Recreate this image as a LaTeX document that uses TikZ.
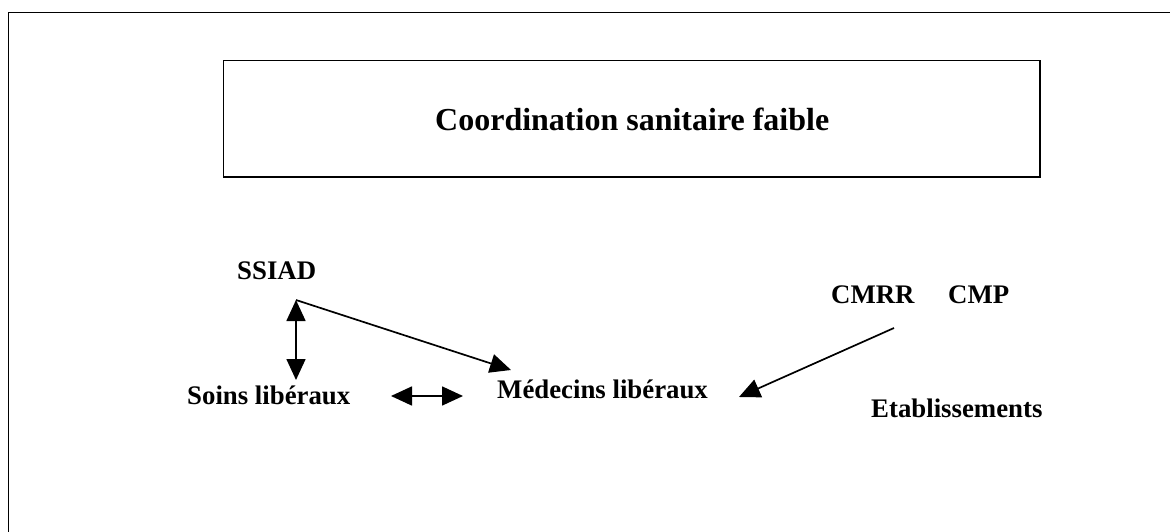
\documentclass[tikz,border=0pt]{standalone}
\usepackage{fontspec}
\setmainfont{Liberation Serif}
\usetikzlibrary{arrows.meta}
\begin{document}
\begin{tikzpicture}[x=1pt,y=-1pt,
  lbl/.style={anchor=base west,inner sep=0pt,font=\fontsize{26.8}{30}\selectfont\bfseries},
  ttl/.style={anchor=base west,inner sep=0pt,font=\fontsize{32}{36}\selectfont\bfseries},
  conn/.style={line width=1.7pt,-{Triangle[length=21pt,width=19pt]}},
  dconn/.style={line width=1.7pt,{Triangle[length=21pt,width=19pt]}-{Triangle[length=21pt,width=19pt]}},
  frame/.style={draw,line width=1.6pt}]
\useasboundingbox (0,0) rectangle (1170,532);
\clip (0,0) rectangle (1170,532);
\draw[frame] (8.5,12.5) rectangle (1190,560);
\draw[frame] (223.5,60.5) rectangle (1040,177);
\node[ttl] (title) at (435,131) {Coordination sanitaire faible};
\node[lbl] (ssiad) at (237,279) {SSIAD};
\node[lbl] (soins) at (187,404) {Soins libéraux};
\node[lbl] (med) at (497,398) {Médecins libéraux};
\node[lbl] (cmrr) at (831,303) {CMRR};
\node[lbl] (cmp) at (948,303) {CMP};
\node[lbl] (etab) at (871,417) {Etablissements};
\coordinate (s0) at (296,300);
\coordinate (s1) at (296,380);
\coordinate (m0) at (511,370);
\coordinate (h0) at (391,396);
\coordinate (h1) at (463,396);
\coordinate (c0) at (894,328);
\coordinate (c1) at (739,397);
\draw[conn] (s0) -- (m0);
\draw[dconn] (s0) -- (s1);
\draw[dconn] (h0) -- (h1);
\draw[conn] (c0) -- (c1);
\end{tikzpicture}
\end{document}
